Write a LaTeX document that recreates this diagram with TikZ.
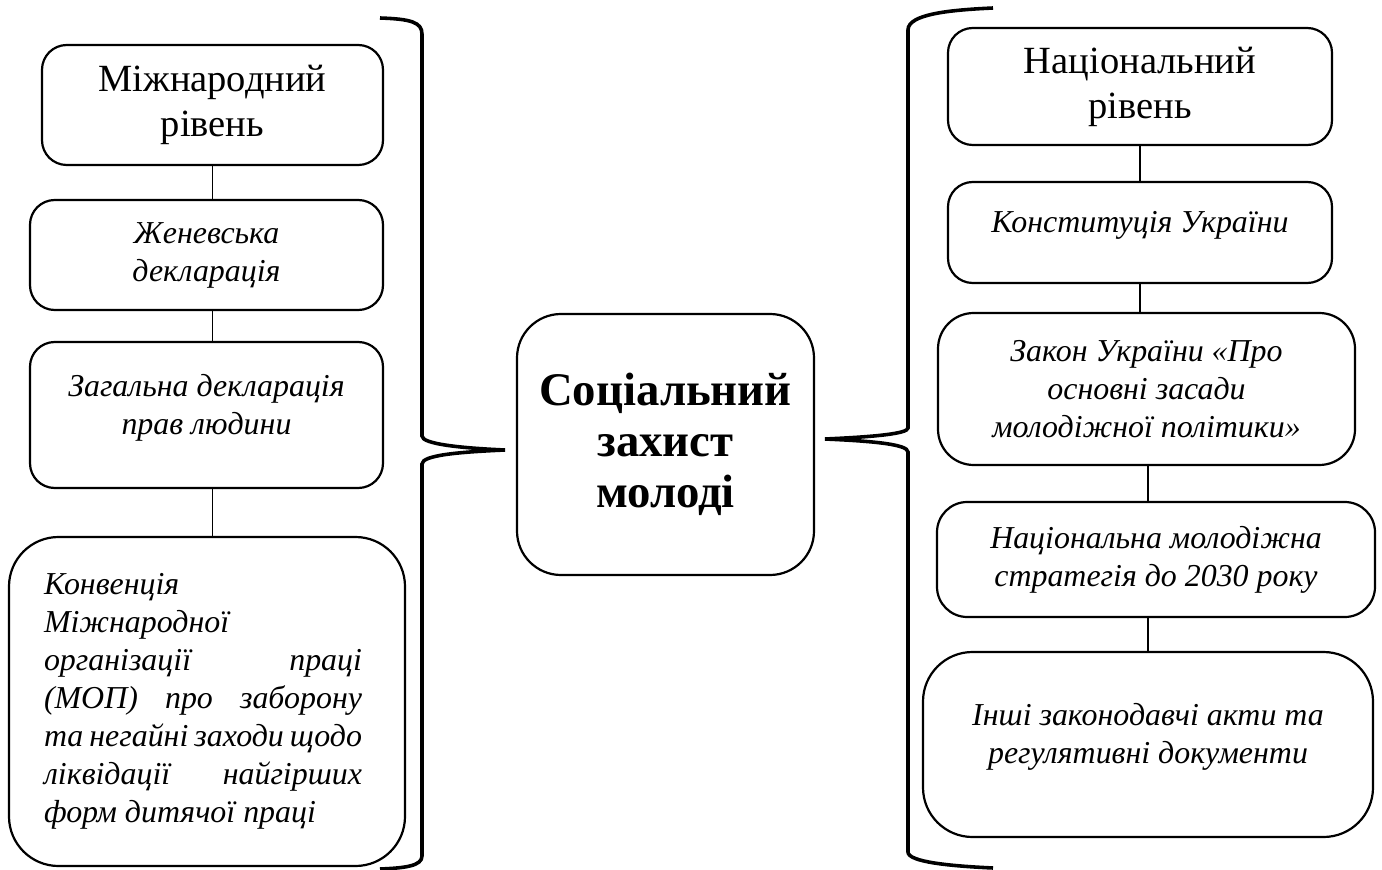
\documentclass[tikz,border=0pt]{standalone}
\usepackage{fontspec}
\setmainfont{Liberation Serif}
\newcommand{\tailgap}{\\[-6pt]\mbox{}}
\tikzset{
  lvlbox/.style={draw, line width=0.8pt, rounded corners=9pt, inner sep=0pt, align=center},
  lvlsize/.style 2 args={minimum width=#1*0.3636pt, minimum height=#2*0.3636pt},
  lvltitle/.style={lvlbox, font=\fontsize{14}{16.4}\selectfont},
  actbox/.style={lvlbox, font=\fontsize{11.6}{13.8}\selectfont\itshape},
  link/.style={line width=0.4pt},
  bracket/.style={line width=1.3pt},
}

\begin{document}
\begin{tikzpicture}[x=0.3636pt, y=-0.3636pt]
    \useasboundingbox (0,0) rectangle (1382,870);

    % international level
    \node[lvltitle, lvlsize={341}{120}] (intl) at (212.5,105) {Міжнародний\\рівень};
    \node[actbox, lvlsize={353}{110}] (geneva) at (206.5,255) {Женевська\\декларація};
    \node[actbox, lvlsize={353}{146}] (udhr) at (206.5,415) {Загальна декларація\\прав людини\tailgap};
    \node[actbox, lvlsize={396}{329}, rounded corners=18pt, align=left] (ilo) at (207,701.5) {
        \parbox{115.6pt}{
            Конвенція\\
            Міжнародної\\
            \makebox[\linewidth][s]{організації праці}\\
            \makebox[\linewidth][s]{(МОП) про заборону}\\
            \makebox[\linewidth][s]{та негайні заходи щодо}\\
            \makebox[\linewidth][s]{ліквідації найгірших}\\
            форм дитячої праці
        }
    };

    % central node
    \node[lvlbox, lvlsize={297}{261}, rounded corners=16pt, font=\fontsize{17}{18.6}\selectfont\bfseries] (hub) at (665.5,444.5) {Соціальний\\захист\\молоді};

    % national level
    \node[lvltitle, lvlsize={384}{117}] (natl) at (1140,86.5) {Національний\\рівень};
    \node[actbox, lvlsize={384}{101}] (const) at (1140,232.5) {Конституція України\tailgap};
    \node[actbox, lvlsize={417}{152}, rounded corners=13pt] (law) at (1146.5,389) {Закон України «Про\\основні засади\\молодіжної політики»};
    \node[actbox, lvlsize={438}{115}, rounded corners=11pt] (strat) at (1156,559.5) {Національна молодіжна\\стратегія до 2030 року};
    \node[actbox, lvlsize={450}{185}, rounded corners=18pt] (other) at (1148,744.5) {Інші законодавчі акти та\\регулятивні документи\tailgap};

    % links
    \draw[link] (intl.south) -- (intl.south |- geneva.north);
    \draw[link] (geneva.south -| intl.south) -- (udhr.north -| intl.south);
    \draw[link] (udhr.south -| intl.south) -- (ilo.north -| intl.south);
    \draw[link] (natl.south) -- (natl.south |- const.north);
    \draw[link] (const.south) -- (const.south |- law.north);
    \draw[link] (law.south -| other.north) -- (strat.north -| other.north);
    \draw[link] (strat.south -| other.north) -- (other.north);

    % braces
    \coordinate (ltip) at (505,450);
    \coordinate (rtip) at (825,439);
    \draw[bracket] (380,18) .. controls (410,19) and (422,22) .. (422,34) -- (422,436)
        .. controls (422,444) and (460,448) .. (ltip)
        .. controls (460,452) and (422,455) .. (422,464) -- (422,856)
        .. controls (422,866) and (405,868) .. (380,869);
    \draw[bracket] (993,8) .. controls (950,10) and (908,14) .. (908,30) -- (908,428)
        .. controls (908,434) and (870,437) .. (rtip)
        .. controls (870,441) and (908,444) .. (908,452) -- (908,852)
        .. controls (908,862) and (950,866) .. (993,868);
\end{tikzpicture}
\end{document}
